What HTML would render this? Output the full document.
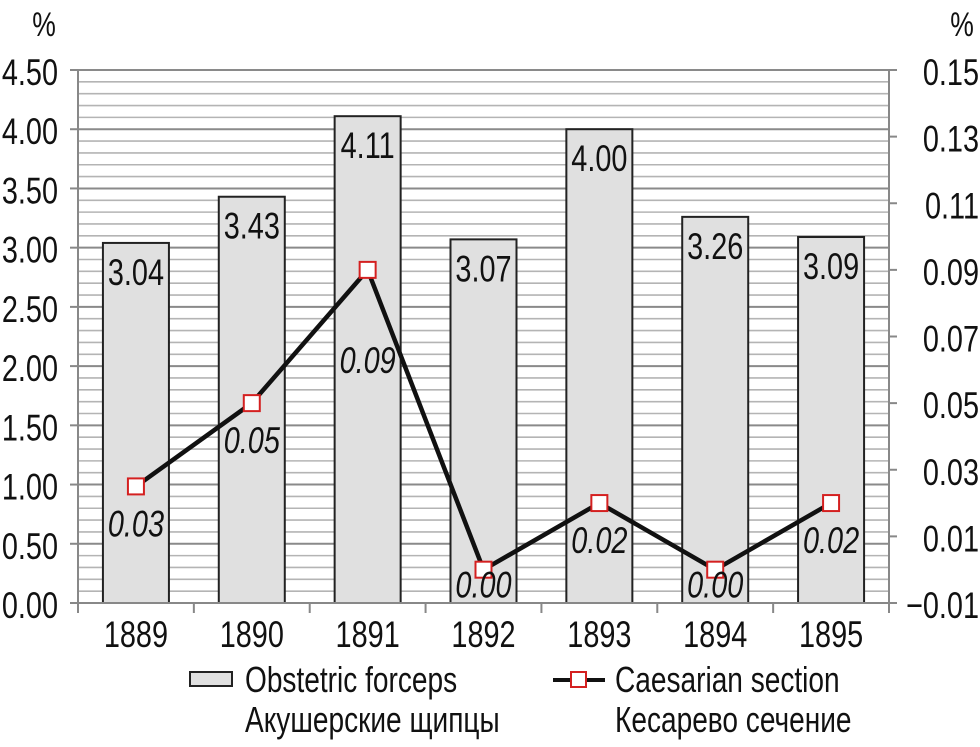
<!DOCTYPE html>
<html><head><meta charset="utf-8"><style>
body{margin:0;background:#fff}
svg{display:block}
text{font-family:"Liberation Sans",sans-serif;fill:#111}
</style></head><body>
<svg id="chart" width="980" height="747" viewBox="0 0 980 747">
<g id="grid"></g>
<g id="bars"></g>
<g id="axes"></g>
<g id="line"></g>
<text transform="translate(44,36) scale(0.78,1)" font-size="34" text-anchor="middle">%</text>
<text transform="translate(962,36) scale(0.78,1)" font-size="34" text-anchor="middle">%</text>
<g>
<rect x="190" y="672" width="42" height="14" fill="#e0e0e0" stroke="#222" stroke-width="2"/>
<text transform="translate(245,692) scale(0.78,1)" font-size="36">Obstetric forceps</text>
<text transform="translate(245,732) scale(0.78,1)" font-size="36">Акушерские щипцы</text>
<line x1="553" y1="680" x2="605" y2="680" stroke="#111" stroke-width="4"/>
<rect x="571" y="672" width="15" height="15" fill="#fff" stroke="#d42020" stroke-width="2"/>
<text transform="translate(615,692) scale(0.78,1)" font-size="36">Caesarian section</text>
<text transform="translate(615,732) scale(0.78,1)" font-size="36">Кесарево сечение</text>
</g>
</svg>
<script>
const years=['1889','1890','1891','1892','1893','1894','1895'];
const forceps=[3.04,3.43,4.11,3.07,4.00,3.26,3.09];
const forcepsLabels=['3.04','3.43','4.11','3.07','4.00','3.26','3.09'];
const caesarian=[0.025,0.05,0.09,0.0,0.02,0.0,0.02];
const caesarianLabels=['0.03','0.05','0.09','0.00','0.02','0.00','0.02'];
const leftTicks=['0.00','0.50','1.00','1.50','2.00','2.50','3.00','3.50','4.00','4.50'];
const rightTicks=['−0.01','0.01','0.03','0.05','0.07','0.09','0.11','0.13','0.15'];
const NS='http://www.w3.org/2000/svg';
const X0=78,X1=889,Y0=603,Y1=70;
const yL=v=>Y0-(v/4.5)*(Y0-Y1);
const yR=v=>Y0-((v+0.01)/0.16)*(Y0-Y1);
const cw=(X1-X0)/years.length;
const xC=i=>X0+cw*(i+0.5);
function mk(tag,attrs,parent){const e=document.createElementNS(NS,tag);for(const k in attrs)e.setAttribute(k,attrs[k]);document.getElementById(parent).appendChild(e);return e;}
function txt(x,y,s,anchor,parent,italic){const t=mk('text',{transform:'translate('+x+','+y+') scale(0.78,1)','font-size':37,'text-anchor':anchor},parent);if(italic)t.setAttribute('font-style','italic');t.textContent=s;return t;}
for(let k=0;k<=45;k++){const y=yL(k*0.1);
 const e=mk('line',{x1:X0,x2:X1,y1:y,y2:y,stroke:k%5===0?'#8a8a8a':'#b4b4b4','stroke-width':k%5===0?2:1.6},'grid');
 
 }
years.forEach((yr,i)=>{
 const top=yL(forceps[i]);
 const r=mk('rect',{x:xC(i)-33,y:top,width:66,height:Y0-top,fill:'#e0e0e0',stroke:'#222','stroke-width':2},'bars');
 
 
 const t=txt(xC(i),top+42,forcepsLabels[i],'middle','bars');
 
 
 const xl=txt(xC(i),647,yr,'middle','axes');
 
 
});
mk('line',{x1:X0,x2:X0,y1:Y1,y2:Y0+8,stroke:'#888','stroke-width':2},'axes');
mk('line',{x1:X1,x2:X1,y1:Y1,y2:Y0+8,stroke:'#888','stroke-width':2},'axes');
mk('line',{x1:X0-8,x2:X1+8,y1:Y0,y2:Y0,stroke:'#888','stroke-width':2},'axes');
for(let i=0;i<=years.length;i++){const x=X0+cw*i;mk('line',{x1:x,x2:x,y1:Y0,y2:Y0+10,stroke:'#888','stroke-width':2},'axes');}
leftTicks.forEach((s,k)=>{const y=yL(k*0.5);
 mk('line',{x1:X0-8,x2:X0,y1:y,y2:y,stroke:'#888','stroke-width':2},'axes');
 const t=txt(58,y+15,s,'end','axes');
 t.setAttribute('transform','translate(58,'+(y+15)+') scale(0.78,1)');
 
 });
rightTicks.forEach((s,k)=>{const y=yR(-0.01+k*0.02);
 mk('line',{x1:X1,x2:X1+8,y1:y,y2:y,stroke:'#888','stroke-width':2},'axes');
 const t=txt(979,y+15,s,'end','axes');
 
 });
const pts=caesarian.map((v,i)=>xC(i)+','+yR(v)).join(' ');
const pl=mk('polyline',{points:pts,fill:'none',stroke:'#111','stroke-width':4.5,'stroke-linejoin':'round'},'line');


caesarian.forEach((v,i)=>{const y=yR(v);
 const m=mk('rect',{x:xC(i)-8,y:y-8,width:16,height:16,fill:'#fff',stroke:'#d42020','stroke-width':2},'line');
 
 
 const off=i===2?103:(v<0.005?28:50);
 const t=txt(xC(i),y+off,caesarianLabels[i],'middle','line',true);
 
 
});
</script>
</body></html>
